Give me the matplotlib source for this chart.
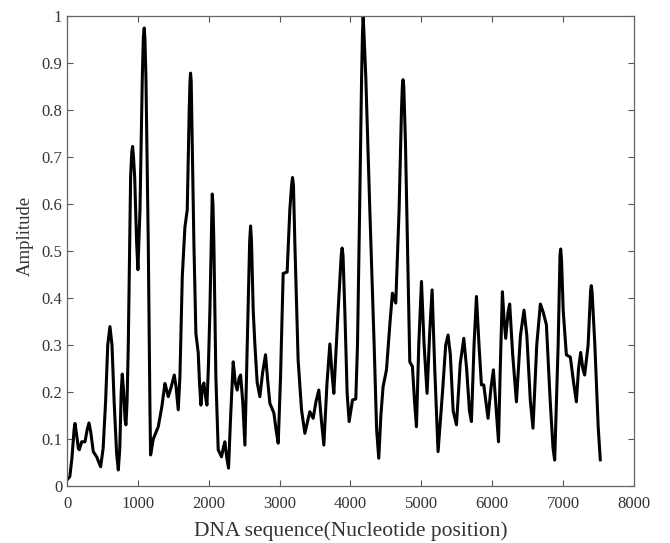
import matplotlib
matplotlib.use("Agg")
import matplotlib.pyplot as plt

positions = [0, 40, 70, 100, 113, 135, 160, 174, 207, 254, 285, 310, 335, 371, 419, 450, 475,
             510, 545, 575, 606, 635, 665, 700, 724, 745, 765, 780, 800, 820, 832, 848, 865, 898,
             914, 926, 938, 955, 983, 1001, 1030, 1063, 1078, 1090, 1100, 1114, 1147, 1171, 1180,
             1218, 1288, 1340, 1382, 1405, 1429, 1470, 1514, 1540, 1570, 1594, 1627, 1664, 1697,
             1725, 1736, 1744, 1753, 1767, 1791, 1819, 1852, 1870, 1890, 1910, 1932, 1955, 1975,
             1995, 2017, 2041, 2050, 2060, 2073, 2101, 2134, 2181, 2205, 2228, 2255, 2280, 2310,
             2346, 2375, 2402, 2430, 2450, 2480, 2511, 2534, 2557, 2578, 2591, 2604, 2628, 2652,
             2684, 2722, 2760, 2802, 2835, 2863, 2920, 2950, 2981, 3014, 3051, 3107, 3145, 3170,
             3183, 3196, 3216, 3262, 3310, 3357, 3400, 3427, 3474, 3515, 3554, 3590, 3625, 3670,
             3710, 3740, 3766, 3827, 3870, 3883, 3896, 3921, 3954, 3982, 4030, 4076, 4100, 4130,
             4158, 4170, 4180, 4192, 4217, 4274, 4335, 4370, 4400, 4430, 4461, 4509, 4560, 4593,
             4640, 4687, 4721, 4733, 4743, 4753, 4777, 4805, 4838, 4875, 4905, 4932, 4965, 5003,
             5040, 5082, 5120, 5153, 5190, 5237, 5300, 5345, 5378, 5410, 5450, 5497, 5550, 5600,
             5640, 5680, 5708, 5745, 5779, 5815, 5849, 5882, 5942, 5985, 6018, 6050, 6090, 6115,
             6145, 6170, 6192, 6225, 6248, 6290, 6343, 6400, 6450, 6490, 6540, 6577, 6630, 6681,
             6720, 6766, 6820, 6860, 6883, 6932, 6958, 6968, 6980, 7003, 7048, 7104, 7150, 7189,
             7220, 7250, 7280, 7306, 7355, 7390, 7400, 7412, 7450, 7497, 7527]
amplitude = [0.013, 0.02, 0.06, 0.12, 0.133, 0.11, 0.08, 0.077, 0.094, 0.094, 0.12, 0.134, 0.115,
             0.073, 0.062, 0.05, 0.041, 0.08, 0.18, 0.30, 0.339, 0.30, 0.18, 0.07, 0.034, 0.08,
             0.20, 0.238, 0.20, 0.14, 0.130, 0.18, 0.30, 0.658, 0.71, 0.722, 0.70, 0.658, 0.516,
             0.46, 0.587, 0.87, 0.955, 0.974, 0.95, 0.87, 0.516, 0.16, 0.066, 0.10, 0.126, 0.17,
             0.218, 0.205, 0.19, 0.21, 0.236, 0.21, 0.162, 0.233, 0.445, 0.55, 0.587, 0.80, 0.86,
             0.878, 0.86, 0.73, 0.516, 0.325, 0.283, 0.22, 0.172, 0.21, 0.219, 0.19, 0.172, 0.25,
             0.374, 0.55, 0.621, 0.60, 0.516, 0.233, 0.077, 0.062, 0.08, 0.094, 0.06, 0.038, 0.15,
             0.264, 0.22, 0.204, 0.23, 0.236, 0.18, 0.087, 0.233, 0.374, 0.52, 0.553, 0.52, 0.374,
             0.30, 0.22, 0.19, 0.24, 0.279, 0.22, 0.176, 0.155, 0.12, 0.091, 0.233, 0.452, 0.455,
             0.587, 0.64, 0.656, 0.64, 0.516, 0.268, 0.162, 0.112, 0.14, 0.158, 0.144, 0.18,
             0.204, 0.14, 0.087, 0.22, 0.302, 0.24, 0.197, 0.374, 0.49, 0.506, 0.49, 0.374,
             0.197, 0.137, 0.183, 0.185, 0.30, 0.587, 0.87, 0.96, 0.999, 0.96, 0.87, 0.587, 0.30,
             0.12, 0.059, 0.15, 0.211, 0.247, 0.35, 0.41, 0.389, 0.587, 0.80, 0.85, 0.864, 0.85,
             0.73, 0.516, 0.264, 0.254, 0.18, 0.126, 0.30, 0.435, 0.30, 0.197, 0.33, 0.417, 0.25,
             0.073, 0.20, 0.30, 0.321, 0.28, 0.16, 0.13, 0.26, 0.314, 0.25, 0.16, 0.137, 0.30,
             0.403, 0.30, 0.215, 0.215, 0.144, 0.21, 0.247, 0.18, 0.094, 0.25, 0.413, 0.35, 0.314,
             0.37, 0.387, 0.28, 0.179, 0.32, 0.374, 0.32, 0.18, 0.123, 0.30, 0.387, 0.37, 0.343,
             0.18, 0.08, 0.055, 0.30, 0.49, 0.504, 0.48, 0.374, 0.279, 0.274, 0.22, 0.179, 0.25,
             0.284, 0.25, 0.236, 0.30, 0.415, 0.426, 0.41, 0.30, 0.126, 0.055]

x_ticks = [0, 1000, 2000, 3000, 4000, 5000, 6000, 7000, 8000]
y_ticks = [0, 0.1, 0.2, 0.3, 0.4, 0.5, 0.6, 0.7, 0.8, 0.9, 1]
y_tick_labels = ["0", "0.1", "0.2", "0.3", "0.4", "0.5", "0.6", "0.7", "0.8", "0.9", "1"]

plt.rcParams["font.family"] = ["Liberation Serif", "DejaVu Serif"]

fig = plt.figure(figsize=(6.7, 5.43), dpi=100)
ax = fig.add_axes([0.1, 0.105, 0.846, 0.866])
ax.plot(positions, amplitude, color="black", linewidth=2.2,
        solid_joinstyle="round", solid_capstyle="round")
ax.set_xlim(0, 8000)
ax.set_ylim(0, 1)
ax.set_xticks(x_ticks)
ax.set_xticklabels([str(t) for t in x_ticks])
ax.set_yticks(y_ticks)
ax.set_yticklabels(y_tick_labels)
ax.tick_params(direction="in", top=True, right=True, length=4, width=0.8,
               labelsize=12, colors="#555555", labelcolor="#333333")
ax.tick_params(axis="x", pad=7)
for s in ax.spines.values():
    s.set_color("#666666")
    s.set_linewidth(0.9)
ax.set_xlabel("DNA sequence(Nucleotide position)", fontsize=15.5, color="#333333", labelpad=7)
ax.set_ylabel("Amplitude", fontsize=13.5, color="#333333")
ax.yaxis.set_label_coords(-0.058, 0.532)
fig.savefig("out.png", dpi=100)
